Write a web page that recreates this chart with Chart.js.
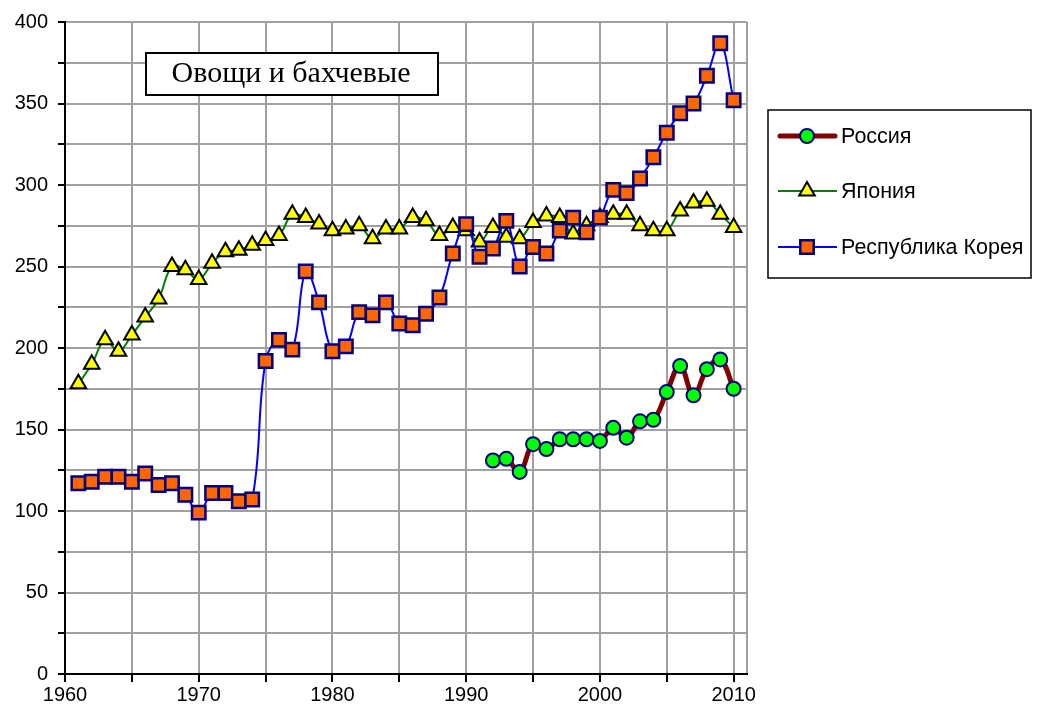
<!DOCTYPE html>
<html>
<head>
<meta charset="utf-8">
<script src="https://cdn.jsdelivr.net/npm/chart.js@4/dist/chart.umd.min.js"></script>
<style>
  body { margin: 0; background: #fff; }
  #wrap { width: 1037px; height: 715px; }
</style>
</head>
<body>
<div id="wrap"><canvas id="goo" width="1037" height="715"></canvas></div>
<script>
// data
const chartTitle = "Овощи и бахчевые";
const seriesNames = ["Россия", "Япония", "Республика Корея"];

const years = [1961, 1962, 1963, 1964, 1965, 1966, 1967, 1968, 1969, 1970,
               1971, 1972, 1973, 1974, 1975, 1976, 1977, 1978, 1979, 1980,
               1981, 1982, 1983, 1984, 1985, 1986, 1987, 1988, 1989, 1990,
               1991, 1992, 1993, 1994, 1995, 1996, 1997, 1998, 1999, 2000,
               2001, 2002, 2003, 2004, 2005, 2006, 2007, 2008, 2009, 2010];

const japan = [178, 190, 205, 198, 208, 219, 230, 250, 248, 242,
               252, 259, 260, 263, 266, 269, 282, 280, 276, 272,
               273, 275, 267, 273, 273, 280, 278, 269, 274, 272,
               265, 274, 268, 267, 277, 281, 280, 270, 275, 280,
               282, 282, 275, 272, 272, 284, 289, 290, 282, 274];

const korea = [117, 118, 121, 121, 118, 123, 116, 117, 110, 99,
               111, 111, 106, 107, 192, 205, 199, 247, 228, 198,
               201, 222, 220, 228, 215, 214, 221, 231, 258, 276,
               256, 261, 278, 250, 262, 258, 272, 280, 271, 280,
               297, 295, 304, 317, 332, 344, 350, 367, 387, 352];

const russiaYears = [1992, 1993, 1994, 1995, 1996, 1997, 1998, 1999, 2000, 2001,
                     2002, 2003, 2004, 2005, 2006, 2007, 2008, 2009, 2010];
const russia = [131, 132, 124, 141, 138, 144, 144, 144, 143, 151,
                145, 155, 156, 173, 189, 171, 187, 193, 175];

const xTicks = [1960, 1965, 1970, 1975, 1980, 1985, 1990, 1995, 2000, 2005, 2010, 2011];
const yMin = 0, yMax = 400, yStep = 25;

function pairs(xs, ys) {
    return xs.map(function(x, i) { return { x: x, y: ys[i] }; });
}

// looks of each series
const styles = [
    { line: "#800000", width: 5, shape: "circle", r: 7, fill: "#00ff00", edge: "#000080", edgeW: 2 },
    { line: "#008000", width: 2, shape: "triangle", r: 9, fill: "#ffff00", edge: "#000000", edgeW: 2 },
    { line: "#0000ff", width: 2, shape: "rect", r: 9.5, fill: "#ff6600", edge: "#000080", edgeW: 2.5 }
];

function drawMark(ctx, s, x, y) {
    ctx.save();
    ctx.fillStyle = s.fill;
    ctx.strokeStyle = s.edge;
    ctx.lineWidth = s.edgeW;
    ctx.beginPath();
    if (s.shape == "circle") {
        ctx.arc(x, y, s.r, 0, Math.PI * 2);
    } else if (s.shape == "triangle") {
        ctx.moveTo(x, y - s.r);
        ctx.lineTo(x + s.r * 0.866, y + s.r * 0.5);
        ctx.lineTo(x - s.r * 0.866, y + s.r * 0.5);
        ctx.closePath();
    } else {
        let h = s.r * Math.SQRT1_2;
        ctx.rect(x - h, y - h, h * 2, h * 2);
    }
    ctx.fill();
    ctx.stroke();
    ctx.restore();
}

const boxes = {
    id: "boxes",
    afterDraw: function(chart) {
        let ctx = chart.ctx;

        // title box
        ctx.save();
        ctx.fillStyle = "#fff";
        ctx.fillRect(146, 53, 292, 42);
        ctx.strokeStyle = "#000";
        ctx.lineWidth = 2;
        ctx.strokeRect(146, 53, 292, 42);
        ctx.fillStyle = "#000";
        ctx.font = "30px 'Liberation Serif', 'Times New Roman', serif";
        ctx.textAlign = "center";
        ctx.textBaseline = "alphabetic";
        ctx.fillText(chartTitle, 291, 82);
        ctx.restore();

        // legend box
        ctx.save();
        ctx.fillStyle = "#fff";
        ctx.fillRect(768, 110, 263, 168);
        ctx.strokeStyle = "#000";
        ctx.lineWidth = 1.5;
        ctx.strokeRect(768, 110, 263, 168);
        let rows = [136, 191, 247];
        for (let i = 0; i < 3; i++) {
            let s = styles[i];
            ctx.strokeStyle = s.line;
            ctx.lineWidth = s.width;
            ctx.lineCap = i == 0 ? "round" : "butt";
            ctx.beginPath();
            ctx.moveTo(i == 0 ? 780 : 778, rows[i]);
            ctx.lineTo(i == 0 ? 835 : 837, rows[i]);
            ctx.stroke();
            drawMark(ctx, s, 807, rows[i]);
            ctx.fillStyle = "#000";
            ctx.font = "21.5px 'Liberation Sans', Arial, sans-serif";
            ctx.textAlign = "left";
            ctx.textBaseline = "middle";
            ctx.fillText(seriesNames[i], 841, rows[i] + 1);
        }
        ctx.restore();
    }
};

const sets = [pairs(russiaYears, russia), pairs(years, japan), pairs(years, korea)];

const ctx = document.getElementById("goo").getContext("2d");
const goo = new Chart(ctx, {
    type: "line",
    data: {
        datasets: sets.map(function(d, i) {
            let s = styles[i];
            return {
                label: seriesNames[i],
                data: d,
                order: 3 - i,
                borderColor: s.line,
                borderWidth: s.width,
                tension: 0.4,
                fill: false,
                clip: false,
                pointStyle: s.shape,
                pointRadius: s.r,
                pointBackgroundColor: s.fill,
                pointBorderColor: s.edge,
                pointBorderWidth: s.edgeW
            };
        })
    },
    options: {
        responsive: false,
        animation: false,
        devicePixelRatio: 1,
        layout: { padding: { left: 0, top: 20, right: 290, bottom: 0 } },
        plugins: {
            legend: { display: false },
            tooltip: { enabled: false }
        },
        scales: {
            x: {
                type: "linear",
                min: 1960,
                max: 2011,
                afterBuildTicks: function(scale) {
                    scale.ticks = xTicks.map(function(v) { return { value: v }; });
                },
                afterFit: function(scale) { scale.height = 41; },
                grid: {
                    color: "#a0a0a0",
                    lineWidth: 2,
                    tickLength: 8,
                    tickColor: function(c) { return c.tick && c.tick.value == 2011 ? "rgba(0,0,0,0)" : "#000"; },
                    tickWidth: 2
                },
                border: { color: "#000", width: 2 },
                ticks: {
                    color: "#000",
                    maxRotation: 0,
                    autoSkip: false,
                    padding: 1,
                    font: { family: "'Liberation Sans', Arial, sans-serif", size: 20 },
                    callback: function(v) { return v % 10 == 0 ? String(v) : ""; }
                }
            },
            y: {
                min: yMin,
                max: yMax,
                afterFit: function(scale) { scale.width = 65; },
                grid: {
                    color: "#a0a0a0",
                    lineWidth: 2,
                    tickLength: 7,
                    tickColor: "#000",
                    tickWidth: 2
                },
                border: { color: "#000", width: 2 },
                ticks: {
                    stepSize: yStep,
                    color: "#000",
                    padding: 10,
                    autoSkip: false,
                    font: { family: "'Liberation Sans', Arial, sans-serif", size: 20 },
                    callback: function(v) { return v % 50 == 0 ? String(v) : ""; }
                }
            }
        }
    },
    plugins: [boxes]
});
</script>
</body>
</html>
